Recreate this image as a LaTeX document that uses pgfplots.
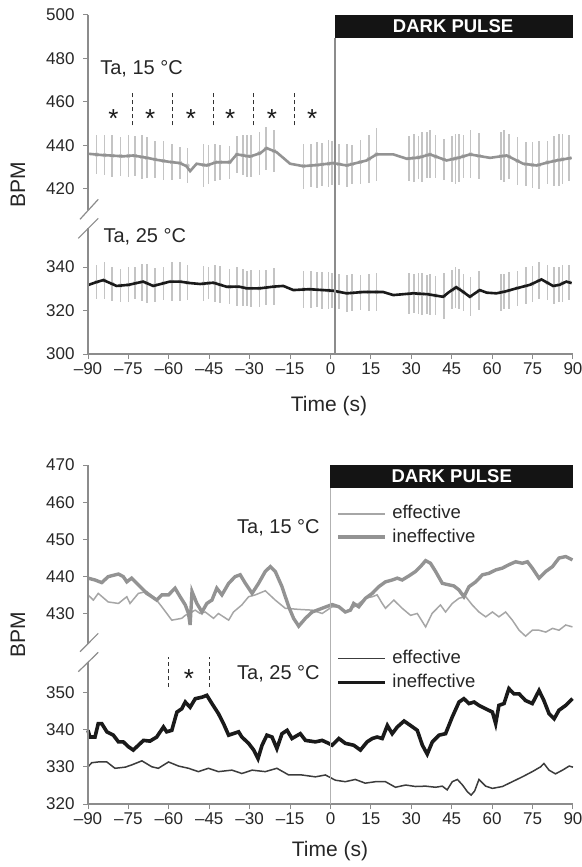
\documentclass[border=0pt]{standalone}
\usepackage{fontspec}
\setmainfont{Liberation Sans}
\usepackage{pgfplots}
\usepackage{pgfplotstable}
\pgfplotsset{compat=1.18}

\definecolor{axgray}{HTML}{8C8C8C}
\definecolor{errgray}{HTML}{C4C4C4}
\definecolor{warm}{HTML}{939393}
\definecolor{warmthin}{HTML}{A6A6A6}
\definecolor{cold}{HTML}{1A1A1A}
\definecolor{coldthin}{HTML}{3C3C3C}

% broken y axes: upper block is shifted down by these offsets
\def\offA{44.1}
\def\offB{58.9}

% ---- top panel: means
\pgfplotstableread{
t v
-90 436.2
-85 435.6
-81.8 435.4
-77 435.0
-73.2 435.4
-68 434.3
-64.5 433.4
-60 432.5
-55.9 431.9
-53.5 430.5
-52.1 428.2
-49.7 431.6
-46 430.8
-42.3 432.3
-37.3 432.3
-34.8 435.9
-29.9 434.9
-26 436.5
-23.7 438.8
-20 436.9
-15 431.6
-10.1 430.5
-5 431
1 431.9
6 430.8
13.4 433.1
17.1 435.9
23.3 435.9
28.3 433.9
33 434.5
36.9 435.9
43.1 433.1
48 434.5
51.8 435.9
55 435.2
59.2 434.3
65.4 435.4
71.5 431.6
76.5 430.8
80 432
83.9 433.1
89.5 434.3
}\topwarm

\pgfplotstableread{
t v
-90 331.7
-87 333
-84.3 334
-79.4 331.3
-75 331.8
-69.5 333.3
-65.8 331.3
-59.6 333.3
-55.9 333.3
-52 332.6
-48.4 332.2
-43.5 332.8
-38.5 330.9
-34 331
-31.1 330.2
-26.2 330.2
-21 331
-17.5 331.3
-13.8 329.4
-8 329.8
1 329.1
6 327.9
12 328.5
19.6 328.5
23.3 327.1
30.7 327.9
36 327.5
41.8 326.3
44 328.5
46.7 330.7
49 328.8
51.7 326.3
55.4 329.4
58 328.2
61.6 327.9
65 328.8
69 330.2
74 331.8
78.3 334.3
82.6 331.3
85 331.8
87.5 333.3
89.5 332.6
}\topcold

% ---- top panel: error bars (t, mean, sd)
\pgfplotstableread{
t v e
-86.8 435.8 8.8
-83.9 435.5 9.2
-81 435.3 9.6
-77.9 435.1 9.0
-75 435.2 9.5
-72.5 435.2 9.2
-70 434.7 10.2
-68.2 434.3 9.4
-65.1 433.6 8.6
-62 432.9 9.0
-58.9 432.3 8.2
-55.8 431.9 7.2
-53.1 430.7 8.0
-47.1 431 9.9
-45.3 431.1 9.0
-42.8 432.3 8.5
-40.9 432.3 8.0
-37.5 432.3 7.5
-34.7 435.9 8.4
-32.5 435.5 9.2
-31 435.1 9.5
-29.5 435.1 9.8
-26.4 436.4 10.0
-23.9 438.6 9.7
-20.9 437.4 9.5
-10 430.5 10.4
-7.2 430.8 10.0
-5 431 10.5
-3.1 431.3 10.0
-0.7 431.6 10.8
0.6 431.8 10.2
3.1 431.4 9.5
6.2 430.9 10.0
8 431.4 9.0
11.1 432.4 10.0
14.2 433.7 11.0
17.1 435.9 12.3
29.1 434 10.5
30.9 434.2 11.0
32.6 434.5 10.0
34 434.9 11.5
35.9 435.6 10.5
36.9 435.9 11.0
39 434.9 10.0
42.1 433.5 9.5
45.2 433.7 10.5
46.4 434 11.5
47.7 434.4 11.0
49.3 435 10.0
52 435.9 11.0
55.1 435.2 10.5
63.2 435 11.0
64.4 435.2 12.0
66.2 434.9 10.5
69.4 432.9 11.0
72.5 431.4 10.0
74.9 431.1 10.5
77.4 431.1 11.0
80.5 432.2 10.0
83 432.8 11.5
84.8 433.3 12.0
86.1 433.6 11.5
88.6 434.1 10.5
}\topwarmerr

\pgfplotstableread{
t v e
-86.8 333.1 8.0
-83.9 333.8 8.5
-81 332.2 8.0
-77.9 331.5 7.5
-75 331.8 8.0
-72.5 332.6 7.5
-70 333.1 8.5
-68.2 332.6 9.0
-65.1 331.7 8.0
-62 332.5 7.5
-58.9 333.3 9.0
-55.8 333.3 9.0
-53.1 332.8 8.0
-47.1 332.4 8.0
-45.3 332.6 7.5
-42.8 332.5 8.5
-40.9 331.8 8.5
-37.5 330.9 8.0
-34.7 330.9 9.0
-32.5 330.6 8.5
-31 330.2 8.0
-29.5 330.2 8.5
-26.4 330.2 8.5
-23.9 330.6 8.0
-20.9 331 8.5
-10 329.7 8.4
-7.2 329.7 8.5
-5 329.6 8.0
-3.1 329.4 8.5
-0.7 329.2 8.5
0.6 329.1 8.0
3.1 328.6 8.0
6.2 327.9 8.5
8 328.1 8.5
11.1 328.4 8.0
14.2 328.5 8.5
17.1 328.5 8.7
29.1 327.7 9.5
30.9 327.9 9.0
32.6 327.8 9.5
34 327.6 9.5
35.9 327.5 9.0
36.9 327.3 9.5
39 326.9 9.0
42.1 326.6 10.5
45.2 329.5 9.0
46.4 330.5 9.5
47.7 329.9 9.0
49.3 328.5 8.5
52 326.6 9.0
55.1 329.1 9.0
63.2 328.3 8.5
64.4 328.6 8.0
66.2 329.2 8.5
69.4 330.3 8.0
72.5 331.3 8.5
74.9 332.2 8.5
77.4 333.8 8.5
80.5 332.8 8.0
83 331.4 8.5
84.8 331.8 8.0
86.1 332.5 8.5
88.6 333 8.0
}\topcolderr

% ---- bottom panel
\pgfplotstableread{
t v
-90 435.1
-88 433.7
-86.2 435.5
-82.5 433.2
-78.7 432.8
-75.6 434.6
-74.4 432.8
-71.3 435.5
-68.2 436
-65.1 434.2
-62.6 431.9
-58.9 428.3
-55.2 428.8
-53.9 429.6
-50.2 431
-48.4 430.1
-46.5 430.5
-43.4 428.8
-41.6 430.1
-37.8 428.3
-36 430.5
-32.9 432.4
-30.4 434.6
-27.9 435.1
-24.2 436.2
-20.5 433.7
-16.8 431.5
-11.8 431.2
-6.8 431
-3.1 430.1
0.6 431.9
3.1 431.9
5.5 430.5
8 431.5
10.5 432.8
13 434.2
15.5 434.6
17.3 435.1
19.2 432.8
20.4 431.5
23.5 433.7
26.6 431.5
29.7 429.6
32.2 430.1
35.3 426.5
37.7 430.1
40.8 432.4
42.7 430.5
45.2 432.8
47.7 434.2
50.2 434.6
52.6 432.4
55.1 430.5
57.6 429.2
60.1 430.5
62.5 429.2
65 430.5
67.5 428.3
70 425.6
72.4 424
74.9 425.6
77.4 425.6
79.9 425.1
82.4 426.1
84.8 425.6
87.3 427
89.8 426.5
}\warmeff

\pgfplotstableread{
t v
-90 439.6
-87.4 439.1
-84.9 438.4
-82.5 440
-78.7 440.7
-76.9 440
-75.6 438.6
-73.8 439.6
-71.3 437.8
-68.2 435.5
-66.3 434.6
-64.5 433.7
-62.6 435.1
-60.1 435.1
-57.7 436.9
-55.8 434.6
-53.9 432.4
-52.7 430.1
-52.1 427
-51.4 436
-49.6 432.8
-47.7 430.5
-45.9 432.8
-44 433.7
-42.2 436.9
-40.3 435.1
-37.8 438.2
-35.4 440
-33.5 440.5
-31.6 438.2
-29.1 435.5
-26.7 438.2
-24.2 441.4
-22.3 442.7
-20.5 441.4
-18 437.3
-15.5 431.9
-13.7 428.8
-11.8 426.7
-9.3 428.8
-6.8 430.5
-3.1 431.5
0.6 432.5
3.1 431.9
5.5 430.5
7.4 431
8.6 432.8
10.5 431.9
13 434.2
15.5 435.5
17.9 437.3
20.4 438.6
22.9 439.1
24.8 439.6
26.6 439.1
29.1 440.2
31.6 441.4
33.4 442.7
35.3 444.3
37.1 443.6
39 441.4
41.5 438.2
43.9 437.8
45.8 437.5
47.7 436.4
49.5 434.6
51.4 437.3
53.9 438.6
56.4 440.5
58.8 440.9
61.3 441.8
63.8 442.3
66.2 443.2
68.7 444
71.2 443.6
73.1 444
74.9 442.3
77.4 439.6
79.9 441.4
82.4 442.7
84.8 445
87.3 445.4
89.8 444.5
}\warmineff

\pgfplotstableread{
t v
-90 330
-88.6 331.1
-86.2 331.3
-83 331.3
-80 329.6
-76.2 329.9
-73.8 330.5
-70 331.6
-66.3 330
-63.9 329.6
-60.1 331.3
-56.4 330.2
-52.7 329.6
-49 328.7
-45.3 329.6
-41.6 328.7
-36.6 329.1
-32.9 328.2
-29.1 329.1
-24.2 328.7
-19.9 329.6
-15.5 327.8
-10.6 327.8
-5.6 327.3
-1.9 327.8
1.8 326.4
5.5 326
9.2 326.6
12.9 325.6
16.7 326
20.4 326
24.1 324.5
27.9 325.1
31.6 324.7
35.3 324.8
39 324.5
41.5 324.8
43.3 323.8
45.2 326
47.1 326.6
49 325.1
50.8 323.3
52.2 322.4
53.5 323.5
55.1 326.6
57.6 324.8
60.1 324.2
63.8 324.7
67.5 326
71.2 327.3
74.9 328.7
78 330
79.2 330.9
81.1 329.1
83.5 328.1
86.1 329.1
88.6 330.2
90 329.9
}\coldeff

\pgfplotstableread{
t v
-90 339.8
-89.3 338
-87.4 338
-86.2 341.6
-84.9 341.6
-83 339.4
-80.6 338.5
-78.7 336.7
-76.9 336.7
-75 335.4
-73.2 334.5
-71.3 335.8
-69.4 337.1
-67 336.9
-64.5 338
-62 340.7
-60.8 339.4
-58.9 339.8
-57 344.7
-55.2 345.6
-53.9 347.4
-52.1 346
-50.2 348.3
-47.7 348.7
-45.9 349.2
-44 347
-41.6 344.3
-39.7 341.6
-37.8 338.5
-34.1 339.4
-32.9 338
-30.4 336.3
-28.5 334.5
-26.9 332.2
-25.4 335.8
-23.6 338.5
-21.7 338
-19.9 334.9
-18 338.9
-16.1 339.8
-14.3 337.6
-11.2 338.9
-9.3 337.1
-5.6 336.7
-3.1 337.1
-0.7 336.3
0.6 335.8
3.1 337.6
5.5 336.3
8.6 335.8
11.1 334.5
13.6 336.7
15.5 337.6
17.3 338
19.2 337.6
21.1 341.1
22.9 338.9
24.8 340.7
27.3 342.3
29.7 341.1
32.2 339.8
34.1 335.8
35.9 333.4
37.8 336.7
40.3 338.5
42.7 338.9
45.2 343.4
47.7 347.4
49.5 348.3
51.4 347
53.3 347.4
55.1 346.5
57.6 345.6
60.1 344.7
61.3 341.6
62.5 346.5
64.4 347
66.2 351
68.1 349.6
70 349.6
72.4 347.8
74.9 347
77.4 350.5
79.2 347.8
81.1 344.3
83 342.9
84.8 345.2
87.3 346.5
89.8 348.3
}\coldineff

\pgfplotsset{
  panel/.style={
    scale only axis, width=485pt, height=339pt,
    xmin=-90, xmax=90, enlargelimits=false, clip=false,
    axis x line*=bottom, axis y line*=left,
    axis line style={-, axgray, line width=1.2pt},
    y axis line style={draw=none},
    xtick={-90,-75,...,90},
    xticklabels={\textendash90,\textendash75,\textendash60,\textendash45,\textendash30,\textendash15,0,15,30,45,60,75,90},
    tick align=outside, major tick length=5pt,
    tick style={axgray, line width=1pt},
    tick label style={font=\fontsize{17}{17}\selectfont, text=black!85},
    yticklabel style={xshift=-5pt},
  },
  ebar/.style={only marks, mark=none, color=errgray,
    error bars/.cd, y dir=both, y explicit,
    error bar style={line width=1.6pt}, error mark=none},
}
\tikzset{
  lbl/.style={font=\fontsize{20}{20}\selectfont, text=black!85, inner sep=0pt, anchor=west},
  leg/.style={font=\fontsize{18.5}{18.5}\selectfont, text=black!85, inner sep=0pt, anchor=west},
  star/.style={font=\fontsize{26}{26}\selectfont, text=black!90, inner sep=0pt, yshift=-5pt},
  sep/.style={black!80, line width=0.8pt, dash pattern=on 4pt off 3pt},
}

\begin{document}
\begin{tikzpicture}
\useasboundingbox (0pt,0pt) rectangle (581pt,-867pt);

% ================= top panel: error bars underneath
\begin{axis}[panel, hide axis, at={(88pt,-354pt)}, anchor=south west,
  ymin=300, ymax=455.9]
  \addplot[ebar] table[x=t, y expr=\thisrow{v}-\offA, y error=e] {\topwarmerr};
  \addplot[ebar] table[x=t, y=v, y error=e] {\topcolderr};
\end{axis}

% ================= top panel: means and frame
\begin{axis}[panel, at={(88pt,-354pt)}, anchor=south west,
  ymin=300, ymax=455.9,
  ytick={300,320,340,375.9,395.9,415.9,435.9,455.9},
  yticklabels={300,320,340,420,440,460,480,500}]
  \addplot[warm, line width=2.6pt] table[x=t, y expr=\thisrow{v}-\offA] {\topwarm};
  \addplot[cold, line width=2.6pt] table[x=t, y=v] {\topcold};

  \fill[black!92] (axis cs:1.5,445.3) rectangle (axis cs:90,455.9);
  \node[font=\bfseries\fontsize{18.5}{18.5}\selectfont, text=white] at (axis cs:45.5,450.6) {DARK PULSE};
  \draw[axgray, line width=2pt] (axis cs:1.5,300) -- (axis cs:1.5,445.3);

  \node[lbl] at (axis cs:-85.5,431.2) {Ta, 15 °C};
  \node[lbl] at (axis cs:-84.3,353.9) {Ta, 25 °C};
  \draw[sep] (axis cs:-73.5,405.1) -- (axis cs:-73.5,419.8);
  \draw[sep] (axis cs:-58.5,405.1) -- (axis cs:-58.5,419.8);
  \draw[sep] (axis cs:-43.5,405.1) -- (axis cs:-43.5,419.8);
  \draw[sep] (axis cs:-28.5,405.1) -- (axis cs:-28.5,419.8);
  \draw[sep] (axis cs:-13.5,405.1) -- (axis cs:-13.5,419.8);
  \node[star] at (axis cs:-80.6,410.6) {*};
  \node[star] at (axis cs:-66.9,410.6) {*};
  \node[star] at (axis cs:-51.8,410.6) {*};
  \node[star] at (axis cs:-37.2,410.6) {*};
  \node[star] at (axis cs:-21.7,410.6) {*};
  \node[star] at (axis cs:-6.8,410.6) {*};
\end{axis}

% ================= bottom panel
\begin{axis}[panel, at={(88pt,-804pt)}, anchor=south west,
  ymin=320, ymax=411.1,
  ytick={320,330,340,350,371.1,381.1,391.1,401.1,411.1},
  yticklabels={320,330,340,350,430,440,450,460,470}]
  \addplot[warmthin, line width=1.5pt] table[x=t, y expr=\thisrow{v}-\offB] {\warmeff};
  \addplot[warm, line width=3.4pt] table[x=t, y expr=\thisrow{v}-\offB] {\warmineff};
  \addplot[coldthin, line width=1.5pt] table[x=t, y=v] {\coldeff};
  \addplot[cold, line width=3.6pt] table[x=t, y=v] {\coldineff};

  \fill[black!92] (axis cs:0,405.0) rectangle (axis cs:90,411.1);
  \node[font=\bfseries\fontsize{18.5}{18.5}\selectfont, text=white] at (axis cs:45,408.0) {DARK PULSE};
  \draw[black!30, line width=1pt] (axis cs:0,320) -- (axis cs:0,405.0);

  \node[lbl] at (axis cs:-34.7,394.2) {Ta, 15 °C};
  \node[lbl] at (axis cs:-34.7,355) {Ta, 25 °C};

  \draw[warmthin, line width=1.5pt] (axis cs:2.9,398) -- (axis cs:20.4,398);
  \node[leg] at (axis cs:22.9,398.4) {effective};
  \draw[warm, line width=3.4pt] (axis cs:2.9,391.7) -- (axis cs:20.4,391.7);
  \node[leg] at (axis cs:22.9,392.1) {ineffective};
  \draw[coldthin, line width=1.5pt] (axis cs:2.9,359.1) -- (axis cs:20.4,359.1);
  \node[leg] at (axis cs:22.9,359.5) {effective};
  \draw[cold, line width=3.6pt] (axis cs:2.9,352.7) -- (axis cs:20.4,352.7);
  \node[leg] at (axis cs:22.9,353.1) {ineffective};

  \draw[sep] (axis cs:-60,351.4) -- (axis cs:-60,359.4);
  \draw[sep] (axis cs:-45,351.4) -- (axis cs:-45,359.4);
  \node[star] at (axis cs:-52.5,355) {*};
\end{axis}

% broken y axes
\draw[axgray, line width=1.2pt] (88pt,-15pt) -- (88pt,-210pt);
\draw[axgray, line width=1.2pt] (88pt,-228pt) -- (88pt,-354pt);
\draw[axgray, line width=1.2pt] (80pt,-219.3pt) -- (98.3pt,-199.3pt);
\draw[axgray, line width=1.2pt] (78.3pt,-238.3pt) -- (98.3pt,-218.3pt);
\draw[axgray, line width=1.2pt] (88pt,-465pt) -- (88pt,-644pt);
\draw[axgray, line width=1.2pt] (88pt,-662pt) -- (88pt,-804pt);
\draw[axgray, line width=1.2pt] (80pt,-651.7pt) -- (98.3pt,-633.3pt);
\draw[axgray, line width=1.2pt] (78.3pt,-671.7pt) -- (98.3pt,-652.3pt);

% axis titles
\node[rotate=90, font=\fontsize{21}{21}\selectfont, text=black!85] at (18pt,-185pt) {BPM};
\node[rotate=90, font=\fontsize{21}{21}\selectfont, text=black!85] at (18pt,-635pt) {BPM};
\node[font=\fontsize{21}{21}\selectfont, text=black!85] at (329pt,-406pt) {Time (s)};
\node[font=\fontsize{21}{21}\selectfont, text=black!85] at (330pt,-851pt) {Time (s)};
\end{tikzpicture}
\end{document}
